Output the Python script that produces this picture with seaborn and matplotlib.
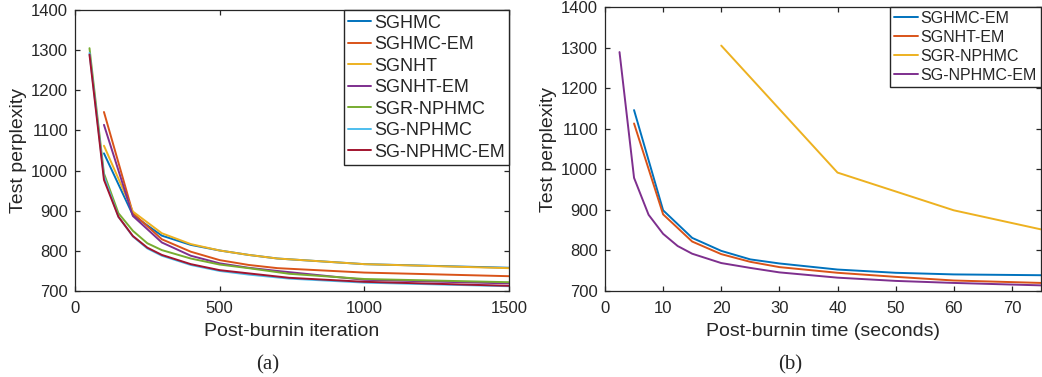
import matplotlib
matplotlib.use("Agg")
import matplotlib.pyplot as plt
import seaborn as sns
import pandas as pd

# ---- data ----
# (a) test perplexity vs post-burnin iteration
iter_coarse = [100, 200, 300, 400, 500, 600, 700, 1000, 1500]
iter_fine = [50, 100, 150, 200, 250, 300, 400, 500, 600, 740, 1000, 1500]

sghmc = [1043, 889, 838, 815, 801, 790, 781, 767, 758]
sghmc_em = [1146, 894, 829, 798, 777, 765, 757, 746, 737]
sgnht = [1062, 898, 844, 817, 801, 790, 781, 767, 757]
sgnht_em = [1114, 887, 821, 788, 769, 758, 750, 728, 719]
sgr_nphmc = [1305, 993, 894, 850, 819, 802, 781, 766, 757, 743, 730, 722]
sg_nphmc = [1293, 985, 885, 836, 806, 788, 765, 750, 741, 731, 721, 712]
sg_nphmc_em = [1289, 977, 885, 837, 808, 790, 767, 752, 744, 733, 723, 713]

# (b) test perplexity vs post-burnin time (seconds)
time_em = [5, 10, 15, 20, 25, 30, 40, 50, 60, 75]
time_npem = [2.5, 5, 7.5, 10, 12.5, 15, 20, 25, 30, 40, 50, 60, 75]
time_sgr = [20, 40, 60, 75]

t_sghmc_em = [1146, 899, 831, 799, 778, 768, 753, 745, 741, 739]
t_sgnht_em = [1113, 889, 822, 791, 772, 759, 745, 735, 726, 720]
t_sgr_nphmc = [1305, 992, 899, 852]
t_sg_nphmc_em = [1289, 979, 888, 841, 811, 792, 769, 757, 746, 733, 725, 720, 714]

matlab = ["#0072BD", "#D95319", "#EDB120", "#7E2F8E", "#77AC30", "#4DBEEE", "#A2142F"]

sns.set_style("ticks")
plt.rcParams["font.family"] = ["Liberation Sans", "DejaVu Sans"]
plt.rcParams["axes.edgecolor"] = "#262626"
plt.rcParams["axes.linewidth"] = 0.9

fig = plt.figure(figsize=(10.42, 3.77), dpi=100)
ax1 = fig.add_axes([0.072, 0.228, 0.4165, 0.7454])
ax2 = fig.add_axes([0.5806, 0.228, 0.4184, 0.7533])

left = [
    ("SGHMC", iter_coarse, sghmc, matlab[0]),
    ("SGHMC-EM", iter_coarse, sghmc_em, matlab[1]),
    ("SGNHT", iter_coarse, sgnht, matlab[2]),
    ("SGNHT-EM", iter_coarse, sgnht_em, matlab[3]),
    ("SGR-NPHMC", iter_fine, sgr_nphmc, matlab[4]),
    ("SG-NPHMC", iter_fine, sg_nphmc, matlab[5]),
    ("SG-NPHMC-EM", iter_fine, sg_nphmc_em, matlab[6]),
]
for name, xs, ys, c in left:
    df = pd.DataFrame({"x": xs, "y": ys})
    sns.lineplot(data=df, x="x", y="y", ax=ax1, color=c, lw=1.4, label=name)

right = [
    ("SGHMC-EM", time_em, t_sghmc_em, matlab[0]),
    ("SGNHT-EM", time_em, t_sgnht_em, matlab[1]),
    ("SGR-NPHMC", time_sgr, t_sgr_nphmc, matlab[2]),
    ("SG-NPHMC-EM", time_npem, t_sg_nphmc_em, matlab[3]),
]
for name, xs, ys, c in right:
    df = pd.DataFrame({"x": xs, "y": ys})
    sns.lineplot(data=df, x="x", y="y", ax=ax2, color=c, lw=1.4, label=name)

ax1.set_xlim(0, 1500)
ax1.set_xticks([0, 500, 1000, 1500])
ax1.set_xlabel("Post-burnin iteration", fontsize=14, labelpad=5)
ax2.set_xlim(0, 75)
ax2.set_xticks(range(0, 80, 10))
ax2.set_xlabel("Post-burnin time (seconds)", fontsize=14, labelpad=5)

for ax in (ax1, ax2):
    ax.set_ylim(700, 1400)
    ax.set_yticks(range(700, 1500, 100))
    ax.set_ylabel("Test perplexity", fontsize=14, labelpad=3)
    ax.tick_params(direction="in", length=3.5, width=0.9, top=True, right=True,
                   labelsize=12, pad=5, colors="#262626")
    ax.tick_params(axis="x", pad=7)
    for s in ax.spines.values():
        s.set_visible(True)

leg1 = ax1.legend(loc="upper right", fontsize=13, borderaxespad=0, fancybox=False,
                  framealpha=1, edgecolor="#262626", handlelength=1.25,
                  handletextpad=0.15, labelspacing=0.25, borderpad=0.25)
leg1.get_frame().set_linewidth(1.0)
leg2 = ax2.legend(loc="upper right", fontsize=11.5, borderaxespad=0, fancybox=False,
                  framealpha=1, edgecolor="#262626", handlelength=1.5,
                  handletextpad=0.15, labelspacing=0.25, borderpad=0.25)
leg2.get_frame().set_linewidth(1.0)

fig.text(268 / 1042, 1 - 365 / 377, "(a)", ha="center", va="center", fontsize=15,
         family=["Liberation Serif", "DejaVu Serif"])
fig.text(790 / 1042, 1 - 365 / 377, "(b)", ha="center", va="center", fontsize=15,
         family=["Liberation Serif", "DejaVu Serif"])

fig.savefig("out.png", dpi=100)
